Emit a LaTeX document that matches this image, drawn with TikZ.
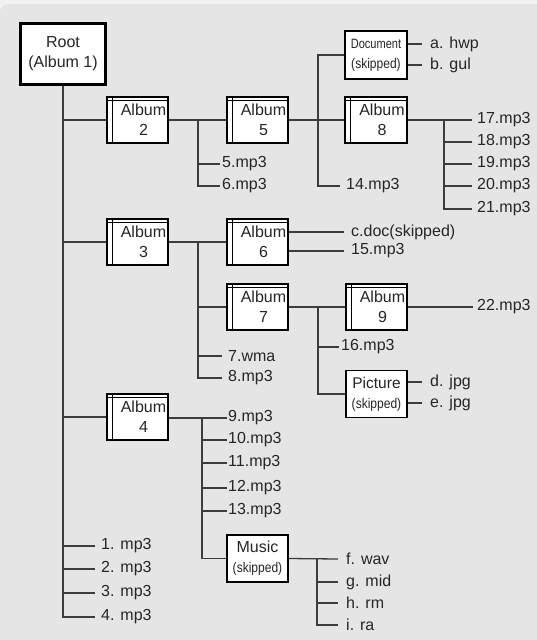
\documentclass[tikz,border=0pt]{standalone}
\usepackage{fontspec}
\setmainfont{Liberation Sans}
\definecolor{bgcol}{HTML}{E5E5E5}
\definecolor{bgtop}{HTML}{F2F2F2}
\definecolor{linecol}{HTML}{3C3C3C}
\definecolor{txtcol}{HTML}{262626}
\newcommand{\skp}{\scalebox{0.86}[1]{\fontsize{14}{21}\selectfont (skipped)}}
\begin{document}
\begin{tikzpicture}[x=1pt,y=-1pt,
  conn/.style={draw=linecol, line width=1.3pt},
  boxbase/.style={draw=black, line width=1.1pt, fill=white, inner sep=0pt, align=center,
    text=txtcol, font=\fontsize{16}{20}\selectfont},
  albumbox/.style={boxbase, minimum width=61pt, minimum height=46pt},
  plainbox/.style={boxbase, minimum width=61pt, minimum height=47pt},
  rootbox/.style={boxbase, line width=2.3pt, minimum width=85pt, minimum height=61pt},
  leaf/.style={anchor=west, inner ysep=1pt, inner xsep=#1, text=txtcol, font=\fontsize{16}{18}\selectfont},
  leaf/.default=2pt
]
\useasboundingbox (0,0) rectangle (537,640);
\fill[bgtop] (0,0) rectangle (537,640);
\fill[bgcol, rounded corners=8pt] (0,4) rectangle (547,650);

% boxes
\node[rootbox] (root) at (63,54) {Root\\(Album 1)};
\node[albumbox] (a2) at (137.5,120) {\hspace*{12pt}Album\\\hspace*{12pt}2};
\node[albumbox] (a5) at (257.5,120) {\hspace*{12pt}Album\\\hspace*{12pt}5};
\node[albumbox, minimum width=62pt] (a8) at (376,120) {\hspace*{12pt}Album\\\hspace*{12pt}8};
\node[albumbox] (a3) at (137.5,242) {\hspace*{12pt}Album\\\hspace*{12pt}3};
\node[albumbox] (a6) at (257.5,242) {\hspace*{12pt}Album\\\hspace*{12pt}6};
\node[albumbox] (a7) at (257.5,307) {\hspace*{12pt}Album\\\hspace*{12pt}7};
\node[albumbox] (a9) at (376.5,307) {\hspace*{12pt}Album\\\hspace*{12pt}9};
\node[albumbox] (a4) at (137.5,417) {\hspace*{12pt}Album\\\hspace*{12pt}4};
\node[plainbox, minimum width=62pt, minimum height=48pt] (doc) at (376,55)
  {\scalebox{0.82}[1]{\fontsize{13.5}{21}\selectfont Document}\\\skp};
\node[plainbox, font=\fontsize{15.5}{20}\selectfont] (pic) at (376.5,394) {Picture\\\skp};
\node[plainbox] (mus) at (257.5,558.5) {Music\\\skp};

\foreach \n in {a2,a5,a8,a3,a6,a7,a9,a4}{
  \draw[line width=0.9pt] ([xshift=6pt]\n.north west) -- ([xshift=6pt]\n.south west);
  \draw[line width=0.9pt] ([yshift=-4pt]\n.north west) -- ([yshift=-4pt]\n.north east);
}

% leaves (placed at the end of their connector)
\node[leaf] (l5) at (220,164) {5.mp3};
\node[leaf] (l6) at (220,186) {6.mp3};
\node[leaf=8pt] (la) at (422,44) {a. hwp};
\node[leaf=8pt] (lb) at (422,65) {b. gul};
\node[leaf=6pt] (l14) at (340,186) {14.mp3};
\node[leaf=5pt] (l17) at (472,120) {17.mp3};
\node[leaf=5pt] (l18) at (472,142) {18.mp3};
\node[leaf=5pt] (l19) at (472,164) {19.mp3};
\node[leaf=5pt] (l20) at (472,186) {20.mp3};
\node[leaf=5pt] (l21) at (472,209) {21.mp3};
\node[leaf=7pt] (lc) at (344,232) {c.doc(skipped)};
\node[leaf=7pt] (l15) at (344,251) {15.mp3};
\node[leaf=2pt] (l16) at (339,347) {16.mp3};
\node[leaf=4pt] (l22) at (473,307) {22.mp3};
\node[leaf=8pt] (ld) at (422,382) {d. jpg};
\node[leaf=8pt] (le) at (422,403) {e. jpg};
\node[leaf=6pt] (l7w) at (222,356) {7.wma};
\node[leaf=6pt] (l8) at (222,378) {8.mp3};
\node[leaf=1pt] (l9) at (227,418) {9.mp3};
\node[leaf=1pt] (l10) at (227,440) {10.mp3};
\node[leaf=1pt] (l11) at (227,463) {11.mp3};
\node[leaf=1pt] (l12) at (227,488) {12.mp3};
\node[leaf=1pt] (l13) at (227,511) {13.mp3};
\node[leaf=8pt] (lf) at (338,559) {f. wav};
\node[leaf=8pt] (lg) at (338,582) {g. mid};
\node[leaf=8pt] (lh) at (338,603) {h. rm};
\node[leaf=8pt] (li) at (338,625) {i. ra};
\node[leaf=6pt] (l1) at (95,546) {1. mp3};
\node[leaf=6pt] (l2) at (95,569) {2. mp3};
\node[leaf=6pt] (l3) at (95,593) {3. mp3};
\node[leaf=6pt] (l4) at (95,617) {4. mp3};

% junction coordinates
\coordinate (j2) at (64,120);
\coordinate (j3) at (64,242);
\coordinate (j4) at (64,417);
\coordinate (ja2) at (198,120);
\coordinate (ja5) at (318,55);
\coordinate (ja8) at (444,120);
\coordinate (ja3) at (198,307);
\coordinate (jm) at (317,559);

% root trunk
\draw[conn] (root.south) |- (l4.west);
\draw[conn] (j2) -- (a2.west);
\draw[conn] (j3) -- (a3.west);
\draw[conn] (j4) -- (a4.west);
\foreach \l in {l1,l2,l3}{\draw[conn] (64,0 |- \l.west) -- (\l.west);}

% album 2
\draw[conn] (a2.east) -- (a5.west);
\draw[conn] (ja2) |- (l6.west);
\draw[conn] (ja2 |- l5.west) -- (l5.west);

% album 5
\draw[conn] (a5.east) -- (a8.west);
\draw[conn] (doc.west) -| (ja5) |- (l14.west);
\draw[conn] (doc.east |- la.west) -- (la.west);
\draw[conn] (doc.east |- lb.west) -- (lb.west);

% album 8
\draw[conn] (a8.east) -- (l17.west);
\draw[conn] (ja8) |- (l21.west);
\foreach \l in {l18,l19,l20}{\draw[conn] (ja8 |- \l.west) -- (\l.west);}

% album 3
\draw[conn] (a3.east) -- (a6.west);
\draw[conn] (198,242) |- (l8.west);
\draw[conn] (ja3) -- (a7.west);
\draw[conn] (198,0 |- l7w.west) -- (l7w.west);

% album 6
\draw[conn] (a6.east |- lc.west) -- (lc.west);
\draw[conn] (a6.east |- l15.west) -- (l15.west);

% album 7
\draw[conn] (a7.east) -- (a9.west);
\draw[conn] (318,307) |- (pic.west);
\draw[conn] (318,0 |- l16.west) -- (l16.west);
\draw[conn] (a9.east) -- (l22.west);
\draw[conn] (pic.east |- ld.west) -- (ld.west);
\draw[conn] (pic.east |- le.west) -- (le.west);

% album 4
\draw[conn] (a4.east |- l9.west) -- (l9.west);
\draw[conn] (202,418) |- (mus.west);
\foreach \l in {l10,l11,l12,l13}{\draw[conn] (202,0 |- \l.west) -- (\l.west);}

% music
\draw[conn] (mus.east) -- (lf.west);
\draw[conn] (jm) |- (li.west);
\foreach \l in {lg,lh}{\draw[conn] (jm |- \l.west) -- (\l.west);}
\end{tikzpicture}
\end{document}
